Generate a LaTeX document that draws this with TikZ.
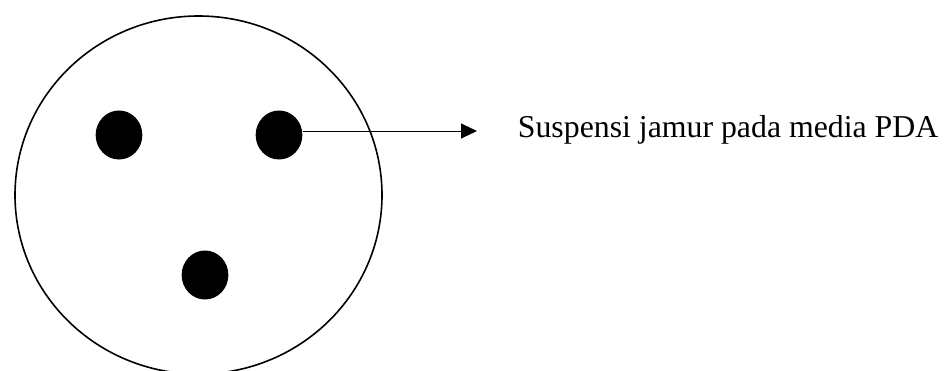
\documentclass[tikz,border=0pt]{standalone}
\usepackage{fontspec}
\setmainfont{Liberation Serif}
\usetikzlibrary{shapes.geometric,arrows.meta}
\begin{document}
\begin{tikzpicture}[x=1pt,y=1pt,
  plate/.style={ellipse,draw,line width=1.6pt,inner sep=0,minimum width=367pt,minimum height=358pt},
  colony/.style={ellipse,fill=black,inner sep=0,minimum width=46.7pt,minimum height=49pt},
  pointer/.style={line width=0.9pt,-{Triangle[length=16pt,width=15pt]}},
  caption/.style={inner sep=0,anchor=base west,font=\fontsize{31.8}{37}\selectfont}]
  \useasboundingbox (0,0) rectangle (949,370);
  % Petri dish with three fungal colonies
  \node[plate] (dish) at (198.5,175) {};
  \node[colony] (c1) at (119,235) {};
  \node[colony] (c2) at (279,235) {};
  \node[colony] (c3) at (205,95) {};
  % label and its pointer
  \node[caption] (label) at (517.7,232.7) {Suspensi jamur pada media PDA};
  \coordinate (tip) at (477,239);
  \draw[pointer] (c2.east |- tip) -- (tip);
\end{tikzpicture}
\end{document}
